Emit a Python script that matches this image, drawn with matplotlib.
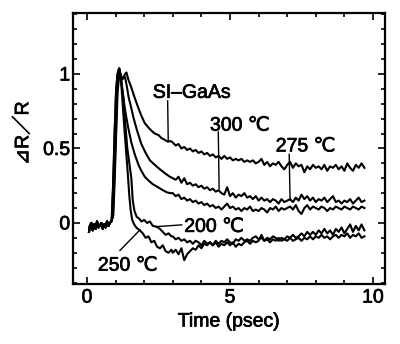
import numpy as np
import matplotlib
matplotlib.use('Agg')
from matplotlib import pyplot as plt
from matplotlib import patheffects
from matplotlib.ticker import MultipleLocator

plt.rcParams['font.family'] = ['Liberation Sans', 'DejaVu Sans', 'Noto Sans CJK JP']

# shared pre-pulse baseline (psec, dR/R)
pre_t = [0.07, 0.10, 0.15, 0.20, 0.25, 0.30, 0.35, 0.40, 0.45, 0.50, 0.55,
         0.60, 0.65, 0.70, 0.75, 0.80, 0.85]
pre_y = [-0.06, -0.02, 0.00, -0.05, -0.01, -0.04, 0.01, -0.03, -0.02, 0.00,
         -0.04, -0.01, -0.03, 0.01, -0.02, 0.00, 0.01]

# tail sampling after 3 psec
tail_t = np.round(np.arange(3.0, 9.75, 0.1), 1)

si_head_t = [0.92, 0.97, 1.02, 1.07, 1.12, 1.16, 1.22, 1.28, 1.33, 1.38, 1.45,
             1.55, 1.65, 1.78, 1.90, 2.02, 2.15, 2.25, 2.37, 2.50, 2.60, 2.70,
             2.83, 2.92]
si_head_y = [0.05, 0.30, 0.60, 0.88, 0.98, 1.01, 0.97, 0.98, 1.00, 1.01, 0.96,
             0.91, 0.85, 0.78, 0.72, 0.67, 0.64, 0.62, 0.60, 0.59, 0.57, 0.56,
             0.545, 0.55]
si_tail = [0.54, 0.52, 0.53, 0.50, 0.51, 0.49, 0.50, 0.48, 0.49, 0.47,
           0.48, 0.46, 0.47, 0.45, 0.46, 0.44, 0.45, 0.43, 0.45, 0.43,
           0.44, 0.42, 0.43, 0.42, 0.43, 0.41, 0.42, 0.41, 0.42, 0.40,
           0.41, 0.43, 0.39, 0.41, 0.38, 0.40, 0.39, 0.41, 0.38, 0.36,
           0.39, 0.41, 0.37, 0.40, 0.38, 0.39, 0.34, 0.38, 0.36, 0.39,
           0.37, 0.38, 0.36, 0.39, 0.35, 0.38, 0.37, 0.39, 0.36, 0.38,
           0.35, 0.40, 0.37, 0.35, 0.39, 0.37, 0.40, 0.37]

t300_head_t = [0.90, 0.96, 1.01, 1.06, 1.11, 1.15, 1.20, 1.27, 1.33, 1.38, 1.46,
               1.55, 1.62, 1.75, 1.90, 2.05, 2.20, 2.37, 2.55, 2.75, 2.90]
t300_head_y = [0.04, 0.32, 0.62, 0.90, 0.99, 1.00, 0.96, 0.97, 0.98, 0.93, 0.84,
               0.77, 0.71, 0.62, 0.53, 0.47, 0.42, 0.39, 0.36, 0.33, 0.31]
t300_tail = [0.30, 0.29, 0.31, 0.27, 0.30, 0.26, 0.27, 0.25, 0.26, 0.24,
             0.25, 0.23, 0.24, 0.22, 0.23, 0.21, 0.22, 0.20, 0.19, 0.24,
             0.18, 0.20, 0.17, 0.19, 0.18, 0.20, 0.17, 0.18, 0.16, 0.18,
             0.15, 0.17, 0.15, 0.16, 0.14, 0.16, 0.15, 0.13, 0.16, 0.14,
             0.15, 0.16, 0.14, 0.17, 0.15, 0.19, 0.16, 0.18, 0.15, 0.17,
             0.14, 0.16, 0.15, 0.17, 0.14, 0.16, 0.18, 0.14, 0.15, 0.13,
             0.15, 0.14, 0.16, 0.13, 0.15, 0.17, 0.14, 0.15]

t275_head_t = [0.88, 0.94, 1.00, 1.05, 1.10, 1.14, 1.20, 1.26, 1.33, 1.43, 1.55,
               1.67, 1.80, 1.90, 2.02, 2.15, 2.30, 2.48, 2.65, 2.80, 2.92]
t275_head_y = [0.03, 0.33, 0.66, 0.92, 1.00, 1.03, 0.94, 0.86, 0.76, 0.65, 0.54,
               0.46, 0.39, 0.35, 0.31, 0.285, 0.26, 0.24, 0.22, 0.205, 0.20]
t275_tail = [0.20, 0.18, 0.19, 0.16, 0.17, 0.15, 0.16, 0.14, 0.15, 0.13,
             0.14, 0.12, 0.13, 0.11, 0.12, 0.10, 0.11, 0.09, 0.11, 0.13,
             0.10, 0.11, 0.09, 0.10, 0.08, 0.10, 0.09, 0.11, 0.08, 0.09,
             0.08, 0.10, 0.09, 0.07, 0.10, 0.09, 0.11, 0.08, 0.10, 0.09,
             0.10, 0.11, 0.09, 0.12, 0.08, 0.06, 0.10, 0.12, 0.09, 0.11,
             0.10, 0.09, 0.11, 0.10, 0.08, 0.10, 0.09, 0.11, 0.10, 0.09,
             0.11, 0.10, 0.09, 0.11, 0.10, 0.09, 0.11, 0.10]

t250_head_t = [0.86, 0.91, 0.96, 1.01, 1.06, 1.10, 1.13, 1.20, 1.26, 1.32, 1.38,
               1.43, 1.48, 1.53, 1.58, 1.65, 1.72, 1.78, 1.85, 1.95, 2.05, 2.15,
               2.25, 2.35, 2.45, 2.55, 2.65, 2.75, 2.85, 2.95]
t250_head_y = [0.02, 0.25, 0.58, 0.86, 0.99, 1.03, 1.04, 0.93, 0.76, 0.60, 0.45,
               0.32, 0.18, 0.08, 0.02, -0.01, -0.03, -0.04, -0.05, -0.07, -0.10,
               -0.09, -0.13, -0.12, -0.16, -0.17, -0.15, -0.19, -0.20, -0.18]
t250_tail = [-0.20, -0.18, -0.21, -0.17, -0.25, -0.21, -0.19, -0.17, -0.18, -0.15,
             -0.17, -0.14, -0.15, -0.13, -0.15, -0.12, -0.14, -0.12, -0.13, -0.11,
             -0.13, -0.14, -0.11, -0.12, -0.10, -0.12, -0.11, -0.12, -0.10, -0.09,
             -0.11, -0.10, -0.12, -0.10, -0.11, -0.09, -0.10, -0.12, -0.10, -0.11,
             -0.09, -0.10, -0.08, -0.10, -0.09, -0.07, -0.09, -0.06, -0.08, -0.06,
             -0.08, -0.05, -0.07, -0.04, -0.07, -0.05, -0.08, -0.04, -0.06, -0.03,
             -0.07, -0.04, -0.01, -0.06, -0.02, -0.05, -0.01, -0.05]

t200_head_t = [0.87, 0.92, 0.97, 1.02, 1.07, 1.13, 1.20, 1.27, 1.34, 1.41, 1.48,
               1.55, 1.60, 1.66, 1.74, 1.82, 1.90, 2.00, 2.10, 2.20, 2.30, 2.43,
               2.55, 2.65, 2.75, 2.85, 2.95]
t200_head_y = [0.03, 0.28, 0.62, 0.90, 1.00, 1.03, 0.96, 0.84, 0.66, 0.50, 0.40,
               0.30, 0.15, 0.08, 0.04, 0.03, 0.01, 0.02, 0.00, 0.01, -0.02, -0.025,
               -0.04, -0.06, -0.08, -0.07, -0.09]
t200_tail = [-0.09, -0.11, -0.10, -0.12, -0.11, -0.13, -0.12, -0.14, -0.12, -0.13,
             -0.15, -0.12, -0.14, -0.13, -0.15, -0.13, -0.16, -0.14, -0.15, -0.13,
             -0.15, -0.13, -0.16, -0.14, -0.15, -0.13, -0.12, -0.14, -0.12, -0.13,
             -0.12, -0.08, -0.12, -0.11, -0.13, -0.11, -0.12, -0.10, -0.12, -0.11,
             -0.12, -0.10, -0.12, -0.11, -0.10, -0.12, -0.10, -0.11, -0.09, -0.11,
             -0.09, -0.10, -0.08, -0.10, -0.09, -0.11, -0.09, -0.08, -0.10, -0.08,
             -0.09, -0.07, -0.10, -0.08, -0.09, -0.07, -0.10, -0.09]

curves = [
    (si_head_t, si_head_y, si_tail),
    (t300_head_t, t300_head_y, t300_tail),
    (t275_head_t, t275_head_y, t275_tail),
    (t250_head_t, t250_head_y, t250_tail),
    (t200_head_t, t200_head_y, t200_tail),
]

# label text, text position, pointer start, pointer end
labels = [
    ('SI\u2013GaAs', (2.30, 0.84), (2.82, 0.82), (2.84, 0.555)),
    ('300 \u2103', (4.30, 0.62), (4.59, 0.61), (4.62, 0.23)),
    ('275 \u2103', (6.60, 0.48), (7.07, 0.46), (7.10, 0.155)),
    ('200 \u2103', (3.40, -0.06), (3.31, -0.013), (2.41, -0.025)),
    ('250 \u2103', (0.38, -0.32), (1.15, -0.185), (1.85, -0.047)),
]

# slightly heavier glyphs, like a printed figure
heavy = [patheffects.withStroke(linewidth=0.5, foreground='black')]

fig = plt.figure(figsize=(4.0, 3.44), dpi=100)
ax = fig.add_axes([0.1825, 0.1744, 0.78, 0.788])

for head_t, head_y, tail_y in curves:
    t = np.concatenate([pre_t, head_t, tail_t])
    y = np.concatenate([pre_y, head_y, tail_y])
    ax.plot(t, y, color='black', lw=1.5)

for text, pos, p0, p1 in labels:
    ax.text(pos[0], pos[1], text, fontsize=14, ha='left', va='baseline',
            path_effects=heavy)
    ax.plot([p0[0], p1[0]], [p0[1], p1[1]], color='black', lw=1.0)

ax.set_xlim(-0.49, 10.42)
ax.set_ylim(-0.41, 1.41)
ax.set_xticks([0, 5, 10])
ax.set_xticklabels(['0', '5', '10'])
ax.set_yticks([0, 0.5, 1])
ax.set_yticklabels(['0', '0.5', '1'])
ax.xaxis.set_minor_locator(MultipleLocator(1))
ax.yaxis.set_minor_locator(MultipleLocator(0.1))
ax.tick_params(which='both', direction='in', top=True, right=True, width=1.2,
               labelsize=14, colors='black')
ax.tick_params(which='major', length=5)
ax.tick_params(which='minor', length=3)
ax.tick_params(axis='y', pad=2)
ax.tick_params(axis='x', pad=4)
for lab in ax.get_xticklabels() + ax.get_yticklabels():
    lab.set_path_effects(heavy)
for sp in ax.spines.values():
    sp.set_linewidth(1.6)

ax.set_xlabel('Time (psec)', fontsize=14, labelpad=5, path_effects=heavy)
fig.text(0.058, 0.613, '\u22bfR\uff0fR', fontsize=14, rotation=90,
         ha='center', va='center', path_effects=heavy)

fig.savefig('out.png', dpi=100, facecolor='white')
